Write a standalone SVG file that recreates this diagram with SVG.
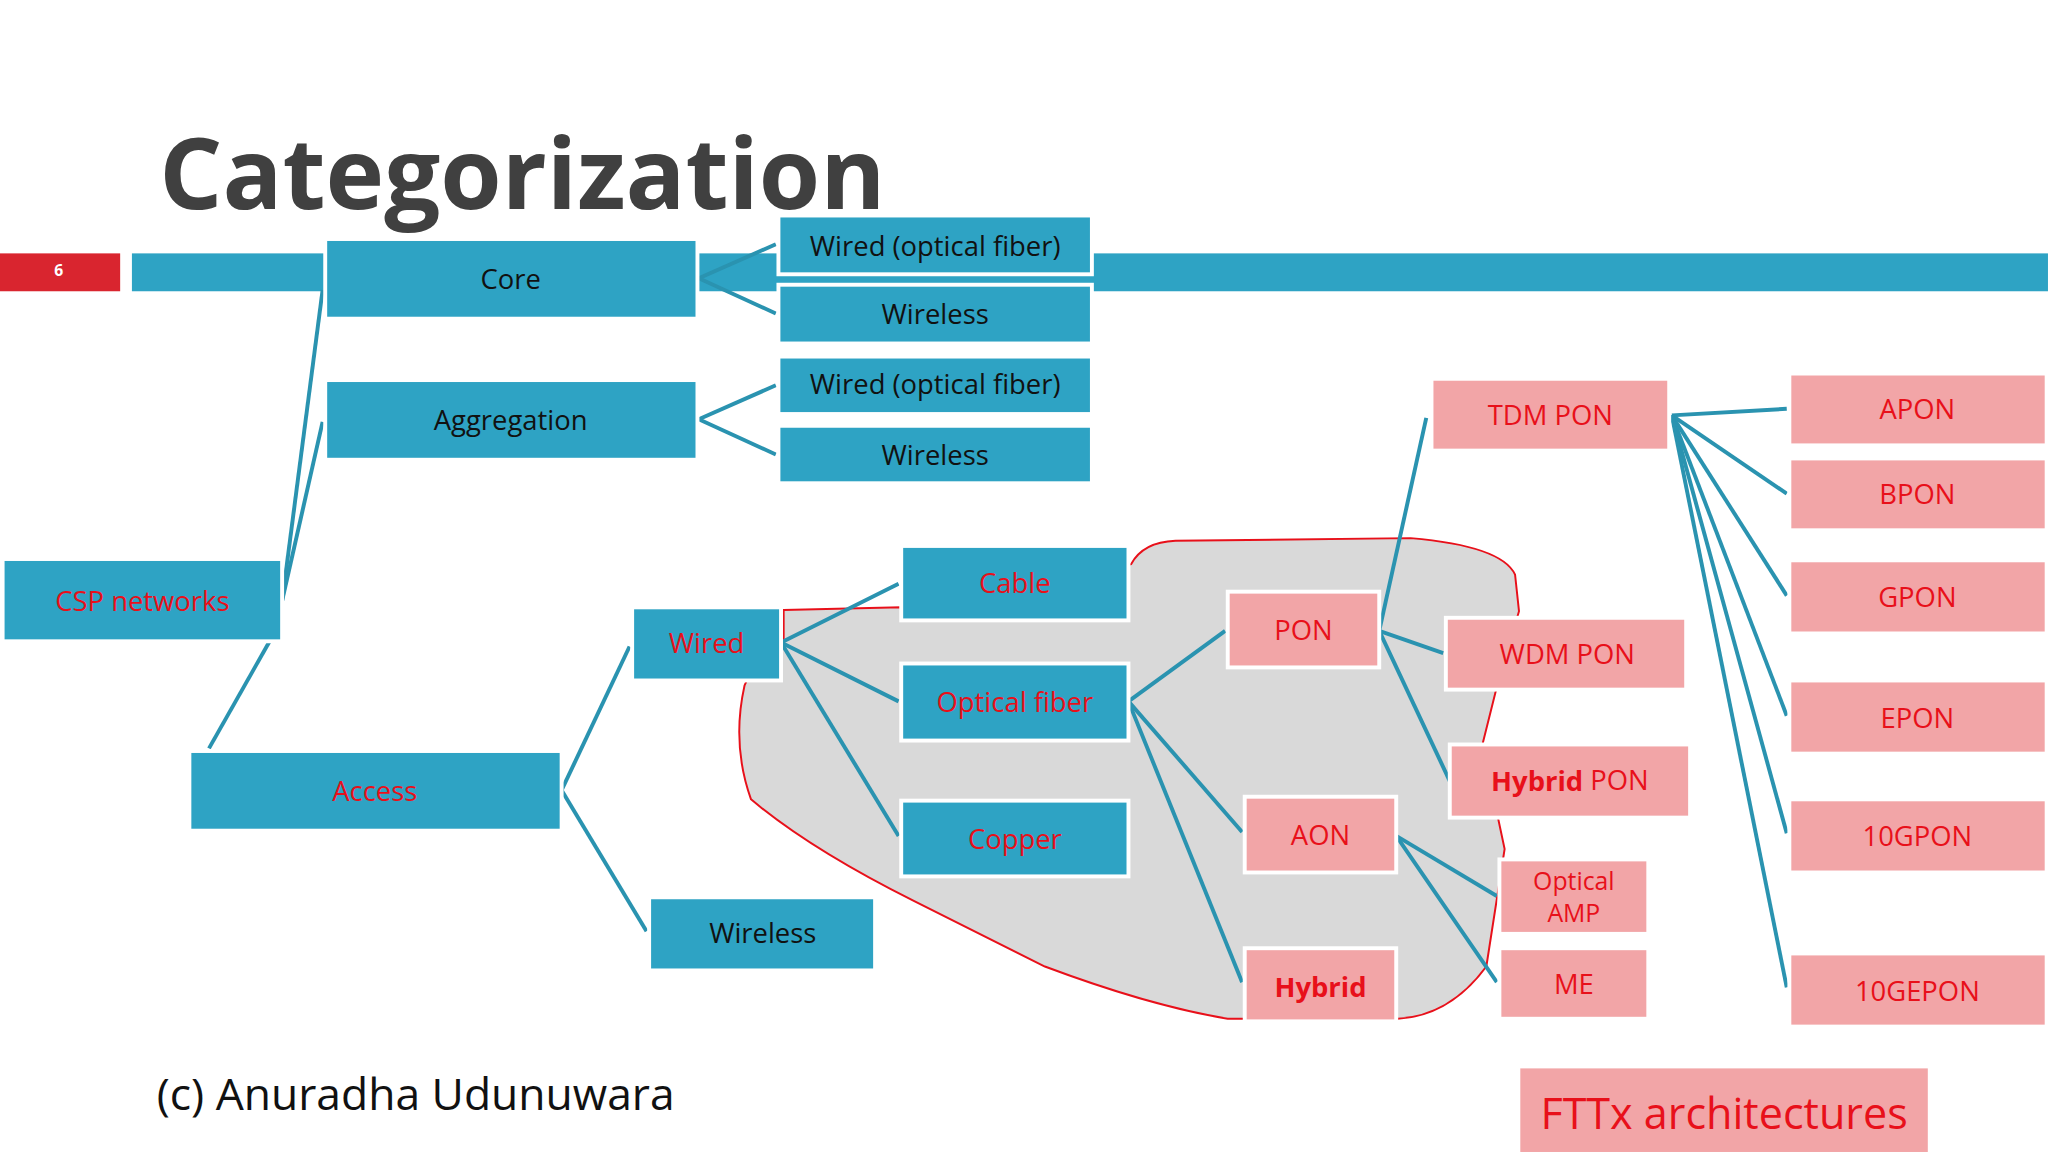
<svg xmlns="http://www.w3.org/2000/svg" width="2048" height="1152" viewBox="0 0 2048 1152">
<style>
.b{fill:#2ea3c4;stroke:#fff;stroke-width:3}
.p{fill:#f2a5a7;stroke:#fff;stroke-width:3}
text{font-family:"Open Sans","Liberation Sans",sans-serif;font-size:21px;text-anchor:middle;dominant-baseline:central}
.k{fill:#111}
.r{fill:#e8101a}
.c line{stroke:#2a93b0;stroke-width:3}
</style>
<rect width="2048" height="1152" fill="#fff"/>
<g transform="scale(1.3061)">
<text x="122" y="160" textLength="556" lengthAdjust="spacingAndGlyphs" style="font-size:76px;font-weight:bold;text-anchor:start;dominant-baseline:auto;fill:#404040">Categorization</text>
<rect x="0" y="194" width="92" height="29" fill="#d9252f"/>
<text x="45" y="207" style="font-size:12px;fill:#fff;font-weight:bold">6</text>
<rect x="101" y="194" width="1467" height="29" fill="#2ea3c4"/>
<path d="M600,467 L690,465 L700,470 L866,432 Q875,415 900,414 L1080,412 Q1150,418 1160,440 L1163,468 L1145,530 L1135,570 L1152,650 L1138,740 Q1110,778 1070,780 L940,780 Q880,770 800,740 L700,690 Q620,650 575,612 Q560,570 570,525 Q580,500 600,495 Z" fill="#d9d9d9" stroke="#e8101a" stroke-width="1.5"/>
<g class="c">
<line x1="535" y1="213" x2="594" y2="187"/><line x1="535" y1="213" x2="594" y2="240"/>
<line x1="535" y1="321" x2="594" y2="295"/><line x1="535" y1="321" x2="594" y2="348"/>
<line x1="216" y1="460" x2="247" y2="222"/><line x1="216" y1="460" x2="247" y2="323"/><line x1="207" y1="490" x2="160" y2="573"/>
<line x1="430" y1="605" x2="482" y2="495"/><line x1="430" y1="605" x2="495" y2="713"/>
<line x1="598" y1="492" x2="688" y2="447"/><line x1="598" y1="492" x2="688" y2="537"/><line x1="598" y1="492" x2="688" y2="640"/>
<line x1="864" y1="537" x2="938" y2="483"/><line x1="864" y1="537" x2="951" y2="637"/><line x1="864" y1="537" x2="951" y2="752"/>
<line x1="1056" y1="483" x2="1092" y2="320"/><line x1="1056" y1="483" x2="1105" y2="500"/><line x1="1056" y1="483" x2="1110" y2="598"/>
<line x1="1069" y1="640" x2="1146" y2="686"/><line x1="1069" y1="640" x2="1146" y2="752"/>
<line x1="1280" y1="318" x2="1368" y2="313"/><line x1="1280" y1="318" x2="1368" y2="378"/><line x1="1280" y1="318" x2="1368" y2="456"/><line x1="1280" y1="318" x2="1368" y2="548"/><line x1="1280" y1="318" x2="1368" y2="638"/><line x1="1280" y1="318" x2="1368" y2="756"/>
</g>
<g id="core"><rect class="b" x="249" y="183" width="285" height="61"/><text class="k" x="391" y="213">Core</text></g>
<g id="core-wired"><rect class="b" x="596" y="165" width="240" height="45"/><text class="k" x="716" y="188">Wired (optical fiber)</text></g>
<g id="core-wireless"><rect class="b" x="596" y="218" width="240" height="45"/><text class="k" x="716" y="240">Wireless</text></g>
<g id="agg"><rect class="b" x="249" y="291" width="285" height="61"/><text class="k" x="391" y="321">Aggregation</text></g>
<g id="agg-wired"><rect class="b" x="596" y="273" width="240" height="44"/><text class="k" x="716" y="294">Wired (optical fiber)</text></g>
<g id="agg-wireless"><rect class="b" x="596" y="326" width="240" height="44"/><text class="k" x="716" y="348">Wireless</text></g>
<g id="csp"><rect class="b" x="2" y="428" width="214" height="63"/><text class="r" x="109" y="460">CSP networks</text></g>
<g id="access"><rect class="b" x="145" y="575" width="285" height="61"/><text class="r" x="287" y="605">Access</text></g>
<g id="wired"><rect class="b" x="484" y="465" width="114" height="56"/><text class="r" x="541" y="492">Wired</text></g>
<g id="acc-wireless"><rect class="b" x="497" y="687" width="173" height="56"/><text class="k" x="584" y="714">Wireless</text></g>
<g id="cable"><rect class="b" x="690" y="418" width="174" height="57"/><text class="r" x="777" y="446">Cable</text></g>
<g id="optical"><rect class="b" x="690" y="508" width="174" height="59"/><text class="r" x="777" y="537">Optical fiber</text></g>
<g id="copper"><rect class="b" x="690" y="613" width="174" height="58"/><text class="r" x="777" y="642">Copper</text></g>
<g id="pon"><rect class="p" x="940" y="453" width="116" height="58"/><text class="r" x="998" y="482">PON</text></g>
<g id="aon"><rect class="p" x="953" y="610" width="116" height="58"/><text class="r" x="1011" y="639">AON</text></g>
<g id="hybrid"><rect class="p" x="953" y="726" width="116" height="56"/><text class="r" x="1011" y="755" font-weight="bold">Hybrid</text></g>
<g id="tdm"><rect class="p" x="1096" y="290" width="182" height="55"/><text class="r" x="1187" y="317">TDM PON</text></g>
<g id="wdm"><rect class="p" x="1107" y="473" width="184" height="55"/><text class="r" x="1200" y="500">WDM PON</text></g>
<g id="hpon"><rect class="p" x="1110" y="570" width="184" height="56"/><text class="r" x="1202" y="597"><tspan font-weight="bold">Hybrid</tspan> PON</text></g>
<g id="oamp"><rect class="p" x="1148" y="658" width="114" height="57"/><text class="r" x="1205" y="674" style="font-size:19px">Optical</text><text class="r" x="1205" y="698" style="font-size:19px">AMP</text></g>
<g id="me"><rect class="p" x="1148" y="726" width="114" height="54"/><text class="r" x="1205" y="753">ME</text></g>
<g id="apon"><rect class="p" x="1370" y="286" width="197" height="55"/><text class="r" x="1468" y="313">APON</text></g>
<g id="bpon"><rect class="p" x="1370" y="351" width="197" height="55"/><text class="r" x="1468" y="378">BPON</text></g>
<g id="gpon"><rect class="p" x="1370" y="429" width="197" height="56"/><text class="r" x="1468" y="457">GPON</text></g>
<g id="epon"><rect class="p" x="1370" y="521" width="197" height="56"/><text class="r" x="1468" y="549">EPON</text></g>
<g id="g10gpon"><rect class="p" x="1370" y="612" width="197" height="56"/><text class="r" x="1468" y="640">10GPON</text></g>
<g id="g10gepon"><rect class="p" x="1370" y="730" width="197" height="56"/><text class="r" x="1468" y="758">10GEPON</text></g>
<g id="fttx"><rect x="1164" y="818" width="312" height="64" fill="#f2a5a7"/><text class="r" x="1320" y="852" style="font-size:33px">FTTx architectures</text></g>
<text x="120" y="837" style="font-size:34px;text-anchor:start;fill:#111">(c) Anuradha Udunuwara</text>
</g>
</svg>
